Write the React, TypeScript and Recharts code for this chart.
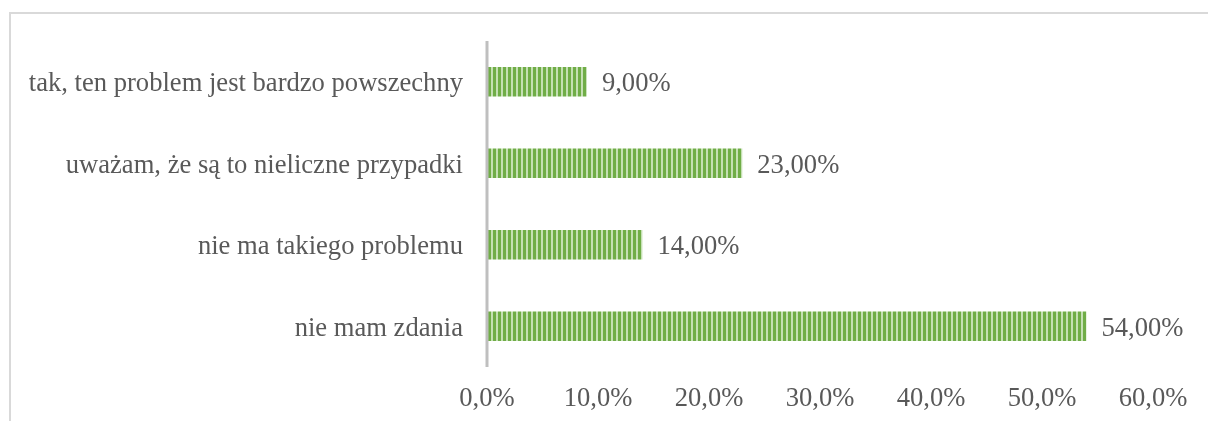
import { Bar, BarChart, LabelList, XAxis, YAxis } from 'recharts';

const categories = [
  'tak, ten problem jest bardzo powszechny',
  'uważam, że są to nieliczne przypadki',
  'nie ma takiego problemu',
  'nie mam zdania',
];
const shares = [0.09, 0.23, 0.14, 0.54];
const xTicks = [0, 0.1, 0.2, 0.3, 0.4, 0.5, 0.6];

const data = categories.map((name, i) => ({ name, value: shares[i] }));

const pct = (v: number, digits: number) => (v * 100).toFixed(digits).replace('.', ',') + '%';

const font = 'Liberation Serif, serif';
const textColor = '#595959';
const tickStyle = { fill: textColor, fontSize: 26.6, fontFamily: font };

export default function App() {
  return (
    <div style={{ position: 'relative', width: 1200, height: 405, fontFamily: font }}>
      {/* chart frame, cut by the window on the right and bottom */}
      <div
        style={{
          position: 'fixed',
          left: 9,
          top: 12,
          width: 1400,
          height: 600,
          border: '2px solid #d9d9d9',
          boxSizing: 'border-box',
        }}
      />
      <BarChart
        layout="vertical"
        width={1200}
        height={405}
        data={data}
        margin={{ top: 33, right: 55, bottom: 0, left: 0 }}
        barCategoryGap="68%"
        style={{ fontFamily: font }}
      >
        <defs>
          <pattern id="stripes" width="5" height="10" patternUnits="userSpaceOnUse">
            <rect x="0" y="0" width="5" height="10" fill="#c5e0b4" />
            <rect x="0" y="0" width="3" height="10" fill="#70ad47" />
          </pattern>
        </defs>
        <XAxis
          type="number"
          domain={[0, 0.6]}
          ticks={xTicks}
          tickFormatter={(v: number) => pct(v, 1)}
          axisLine={false}
          tickLine={false}
          tickSize={0}
          tickMargin={20}
          height={46}
          tick={tickStyle}
        />
        <YAxis
          type="category"
          dataKey="name"
          width={479}
          axisLine={{ stroke: '#bfbfbf', strokeWidth: 3 }}
          tickLine={false}
          tickSize={0}
          tickMargin={24}
          tick={tickStyle}
        />
        <Bar dataKey="value" fill="url(#stripes)" isAnimationActive={false}>
          <LabelList
            dataKey="value"
            position="right"
            offset={15}
            formatter={(v: number) => pct(v, 2)}
            fill={textColor}
            fontSize={26.6}
            fontFamily={font}
          />
        </Bar>
      </BarChart>
    </div>
  );
}
